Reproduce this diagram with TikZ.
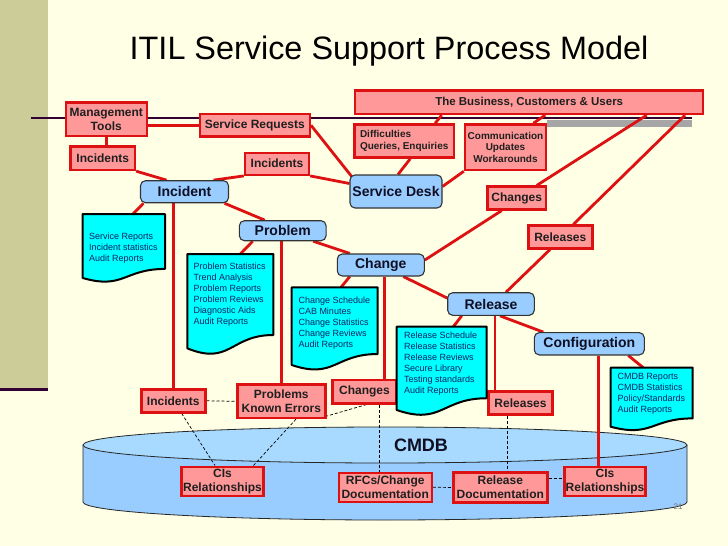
\documentclass[tikz,border=0pt]{standalone}
\usepackage{fontspec}
\setmainfont{Liberation Sans}
\usetikzlibrary{calc}
\definecolor{bgcream}{RGB}{255,255,229}
\definecolor{sidebar}{RGB}{204,204,153}
\definecolor{darkbar}{RGB}{51,0,51}
\definecolor{pinkfill}{RGB}{255,153,153}
\definecolor{redline}{RGB}{221,17,17}
\definecolor{procfill}{RGB}{153,204,255}
\definecolor{cyltop}{RGB}{168,218,255}
\definecolor{docfill}{RGB}{0,255,255}
\definecolor{doctext}{RGB}{15,35,100}
\definecolor{proctext}{RGB}{15,15,35}
\pgfdeclarelayer{bg}\pgfdeclarelayer{lines}
\pgfsetlayers{bg,lines,main}
% doc shape: name, x1, y1, w, h
\newcommand\mydocshape[5]{%
  \pgfmathsetmacro\dxr{#2+#4}\pgfmathsetmacro\dxm{#2+#4/2}%
  \pgfmathsetmacro\dya{#3+0.802*#5}\pgfmathsetmacro\dyb{#3+1.1075*#5}%
  \pgfmathsetmacro\dyc{#3+0.934*#5}%
  \draw[docshape] (#2,#3) -- (\dxr,#3) -- (\dxr,\dya) .. controls (\dxm,\dya) and (\dxm,\dyb) .. (#2,\dyc) -- cycle;
  \node[inner sep=0, minimum width=#4pt, minimum height=1pt, anchor=north] (#1) at (\dxm,#3) {};
}
\begin{document}
\begin{tikzpicture}[x=1pt,y=-1pt,
  pbox/.style={draw=redline, fill=pinkfill, line width=2.4pt, inner sep=0pt,
    align=center, text=black!88, font=\bfseries\fontsize{12}{14}\selectfont},
  smallbox/.style={pbox, font=\bfseries\fontsize{10}{11.6}\selectfont},
  proc/.style={draw=black!80, fill=procfill, line width=1.1pt, rounded corners=5pt,
    inner sep=0pt, text=proctext, font=\bfseries\fontsize{14}{16}\selectfont},
  docshape/.style={draw=black, fill=docfill, line width=2pt, line join=round},
  doctxt/.style={anchor=north west, inner sep=0pt, align=left, text=doctext,
    font=\fontsize{9}{11}\selectfont},
  conn/.style={draw=redline, line width=2.8pt},
  dline/.style={draw=black, line width=0.7pt, dash pattern=on 3pt off 2pt}]
\useasboundingbox (0,0) rectangle (728,546);

% title
\node[font=\fontsize{32.4}{38}\selectfont, anchor=base, inner sep=0] (title) at (389,59) {ITIL Service Support Process Model};

% pink boxes
\node[pbox, minimum width=81pt, minimum height=33.4pt] (MT) at (106.3,119) {Management\\Tools};
\node[pbox, minimum width=110pt, minimum height=22.7pt] (SR) at (254.8,125.3) {Service Requests};
\node[pbox, minimum width=64.3pt, minimum height=23.3pt] (IncA) at (102.8,158.3) {Incidents};
\node[pbox, minimum width=64pt, minimum height=22pt] (IncM) at (277,163.7) {Incidents};
\node[pbox, minimum width=348pt, minimum height=23.3pt, font=\bfseries\fontsize{11.5}{13}\selectfont] (Bus) at (529.2,102.3) {The Business, Customers \& Users};
\node[smallbox, minimum width=99.7pt, minimum height=33.3pt, align=left] (Diff) at (404.2,141) {Difficulties\\Queries, Enquiries};
\node[smallbox, minimum width=81pt, minimum height=45.7pt] (Comm) at (505.5,147.2) {Communication\\Updates\\Workarounds};
\node[pbox, minimum width=58.7pt, minimum height=22.7pt] (ChT) at (516.7,198) {Changes};
\node[pbox, minimum width=64pt, minimum height=22.7pt] (RelT) at (560.3,237) {Releases};
\node[pbox, minimum width=64pt, minimum height=23pt] (IncB) at (173.3,400.8) {Incidents};
\node[pbox, minimum width=88pt, minimum height=33.3pt] (PKE) at (281.3,401.3) {Problems\\Known Errors};
\node[pbox, minimum width=64.3pt, minimum height=23.3pt] (ChB) at (364.5,391.7) {Changes};
\node[pbox, minimum width=64.3pt, minimum height=22.7pt] (RelB) at (520.5,403) {Releases};
\node[pbox, minimum width=81.7pt, minimum height=29pt] (CIsL) at (222.5,481.2) {CIs\\Relationships};
\node[pbox, minimum width=93pt, minimum height=29pt] (RFC) at (385.2,487.2) {RFCs/Change\\Documentation};
\node[pbox, minimum width=94pt, minimum height=29.7pt] (RelD) at (500.3,487.5) {Release\\Documentation};
\node[pbox, minimum width=80.7pt, minimum height=29pt] (CIsR) at (605,481.2) {CIs\\Relationships};

% process nodes
\node[proc, minimum width=88pt, minimum height=22pt] (Incident) at (184.5,191.7) {Incident};
\node[proc, minimum width=92pt, minimum height=33pt] (SD) at (396,191.5) {Service Desk};
\node[proc, minimum width=86.7pt, minimum height=20pt] (Problem) at (282.7,230.7) {Problem};
\node[proc, minimum width=87pt, minimum height=22pt] (Change) at (380.8,265) {Change};
\node[proc, minimum width=86.6pt, minimum height=22.6pt] (Release) at (491,304) {Release};
\node[proc, minimum width=110pt, minimum height=22.3pt] (Config) at (589.3,343.8) {Configuration};

% documents
\mydocshape{doc1}{82.7}{214}{82.3}{68.5}
\node[doctxt] (doc1t) at (89,233) {Service Reports\\Incident statistics\\Audit Reports};
\mydocshape{doc2}{187.3}{254}{86}{101}
\node[doctxt] (doc2t) at (193.3,263) {Problem Statistics\\Trend Analysis\\Problem Reports\\Problem Reviews\\Diagnostic Aids\\Audit Reports};
\mydocshape{doc3}{291.7}{287.3}{86}{83.2}
\node[doctxt] (doc3t) at (298.3,296.5) {Change Schedule\\CAB Minutes\\Change Statistics\\Change Reviews\\Audit Reports};
\mydocshape{doc4}{396.7}{326.7}{90}{89.2}
\node[doctxt] (doc4t) at (404,332) {Release Schedule\\Release Statistics\\Release Reviews\\Secure Library\\Testing standards\\Audit Reports};
\mydocshape{doc5}{610.7}{367.7}{82}{63.2}
\node[doctxt] (doc5t) at (617.3,373) {CMDB Reports\\CMDB Statistics\\Policy/Standards\\Audit Reports};

% CMDB label and page number
\node[font=\bfseries\fontsize{18}{20}\selectfont, text=proctext, inner sep=0] (cmdb) at (421,445) {CMDB};
\node[font=\fontsize{8}{9}\selectfont, text=black!55, inner sep=0] (pnum) at (678,506.5) {21};

% connectors
\begin{pgfonlayer}{lines}
\draw[conn] (MT.east |- SR.west) -- (SR.west);
\draw[conn] (MT.south) -- (MT.south |- IncA.north);
\draw[conn] (IncA.south east) -- ([xshift=-18pt]Incident.north);
\draw[conn] ([xshift=29pt]Incident.north) -- (IncM.south west);
\draw[conn] (IncM.south east) -- ([yshift=8pt]SD.west);
\draw[conn] (SR.east) -- ([xshift=3pt,yshift=-3pt]SD.north west);
\draw[conn] ([xshift=6pt]Diff.south) -- ([xshift=2pt]SD.north);
\draw[conn] ([xshift=31pt]Diff.north) -- ([xshift=-87.5pt]Bus.south);
\draw[conn] ([xshift=28pt]Comm.north) -- ([xshift=16pt]Bus.south);
\draw[conn] ([yshift=5pt]SD.east) -- (Comm.south west);
\draw[conn] ([xshift=117.5pt]Bus.south) -- ([xshift=20pt]ChT.north);
\draw[conn] ([xshift=-15pt]ChT.south) -- ([yshift=5pt]Change.east);
\draw[conn] ([xshift=155.8pt]Bus.south) -- ([xshift=13pt]RelT.north);
\draw[conn] ([xshift=-10.3pt]RelT.south) -- ([xshift=15pt]Release.north);
\draw[conn] ([xshift=-41pt]Incident.south) -- ([xshift=9pt]doc1.north);
\draw[conn] (Incident.south -| IncB.north) -- (IncB.north);
\draw[conn] ([xshift=40pt]Incident.south) -- ([xshift=-18pt]Problem.north);
\draw[conn] ([xshift=-30pt]Problem.south) -- ([xshift=10pt]doc2.north);
\draw[conn] (Problem.south -| PKE.north) -- (PKE.north);
\draw[conn] ([xshift=30.6pt]Problem.south) -- ([xshift=-31pt]Change.north);
\draw[conn] ([xshift=-31pt]Change.south) -- ([xshift=6.3pt]doc3.north);
\coordinate (c1) at ([xshift=4pt]Change.south);
\draw[conn] (c1) -- (c1 |- ChB.north);
\draw[conn] ([xshift=22.5pt]Change.south) -- ([yshift=6pt]Release.west);
\draw[conn] ([xshift=-29.3pt]Release.south) -- ([xshift=11.6pt]doc4.north);
\coordinate (c2) at ([xshift=4pt]Release.south);
\draw[conn] (c2) -- (c2 |- RelB.north);
\draw[conn] ([xshift=9pt]Release.south) -- ([xshift=-46pt]Config.north);
\draw[conn] ([xshift=39pt]Config.south) -- ([xshift=-8.4pt]doc5.north);
\coordinate (c3) at ([xshift=9pt]Config.south);
\draw[conn] (c3) -- (c3 |- CIsR.north);
% dashed links
\draw[dline] (IncB.east) -- (PKE.west);
\draw[dline] ([xshift=8.4pt]IncB.south) -- ([xshift=-7.5pt]CIsL.north);
\draw[dline] ([xshift=14.7pt]PKE.south) -- ([xshift=31pt]CIsL.north);
\draw[dline] ([xshift=2pt]ChB.south) -- ([yshift=3pt]PKE.south east);
\coordinate (c4) at ([xshift=14.5pt]ChB.south);
\draw[dline] (c4) -- (c4 |- RFC.north);
\draw[dline] (RFC.east) -- (RelD.west);
\coordinate (c5) at ([xshift=-13.5pt]RelB.south);
\draw[dline] (c5) -- (c5 |- RelD.north);
\coordinate (c6) at ([yshift=3pt]CIsR.west);
\draw[dline] (c6 -| RelD.east) -- (c6);
\end{pgfonlayer}

% background
\begin{pgfonlayer}{bg}
\fill[bgcream] (0,0) rectangle (728,546);
\fill[sidebar] (0,0) rectangle (48.3,387.5);
\fill[darkbar] (0,387.5) rectangle (48.3,390.7);
\fill[black!35] (547,119.5) rectangle (692,127.3);
\draw[darkbar, line width=2.2pt] (30.7,118.3) -- (692,118.3);
% CMDB cylinder
\fill[procfill] (83,445) -- (83,502) .. controls (83,511.94) and (218.2,520) .. (385,520)
  .. controls (551.8,520) and (687,511.94) .. (687,502) -- (687,445) -- cycle;
\draw[black!85, line width=0.8pt] (83,445) -- (83,502) .. controls (83,511.94) and (218.2,520) .. (385,520)
  .. controls (551.8,520) and (687,511.94) .. (687,502) -- (687,445);
\draw[black!85, fill=cyltop, line width=0.8pt] (385,445) ellipse [x radius=302, y radius=18];
\end{pgfonlayer}
\end{tikzpicture}
\end{document}
